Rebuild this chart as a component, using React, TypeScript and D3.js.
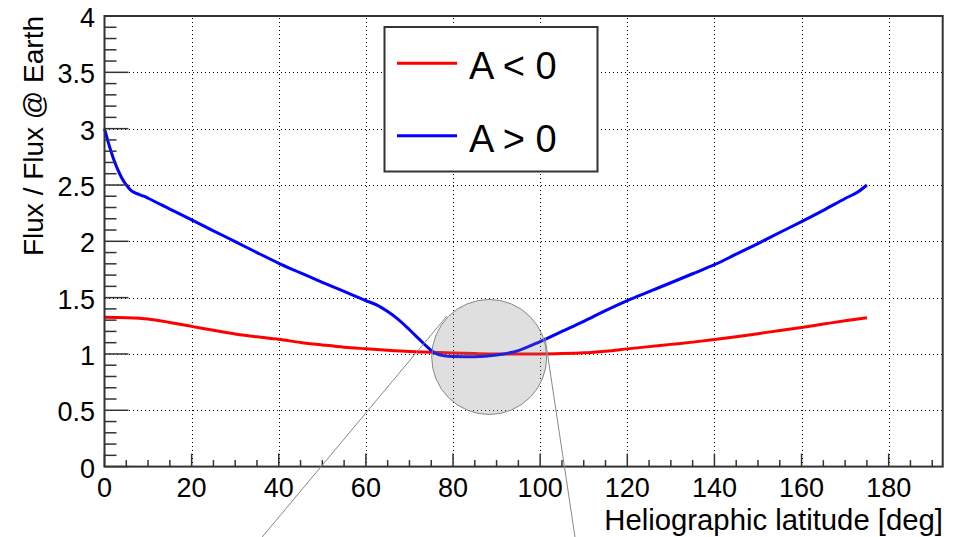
import React from "react";
import * as d3 from "d3";

// ---- data ----
const latNeg: number[] = [0, 5, 10, 15, 20, 25, 30, 35, 40, 45, 50, 55, 60, 65, 70, 75, 80, 85, 90, 95, 100, 105, 110, 115, 120, 125, 130, 135, 140, 145, 150, 155, 160, 165, 170, 175];
const fluxNeg: number[] = [1.326, 1.322, 1.31, 1.28, 1.245, 1.21, 1.178, 1.152, 1.13, 1.102, 1.08, 1.06, 1.046, 1.033, 1.022, 1.015, 1.008, 1.003, 1.0, 1.0, 1.0, 1.003, 1.01, 1.025, 1.045, 1.065, 1.085, 1.105, 1.128, 1.153, 1.18, 1.208, 1.235, 1.265, 1.295, 1.322];

const latPos: number[] = [0, 1, 2, 3, 4, 5, 6, 7, 8, 9, 10, 15, 20, 25, 30, 35, 40, 45, 50, 55, 60, 63, 65, 67, 70, 72, 74, 76, 78, 80, 85, 90, 95, 100, 105, 110, 115, 120, 125, 130, 135, 140, 145, 150, 155, 160, 165, 170, 173, 175];
const fluxPos: number[] = [3.0, 2.86, 2.74, 2.64, 2.56, 2.5, 2.455, 2.43, 2.415, 2.4, 2.382, 2.286, 2.19, 2.093, 1.997, 1.9, 1.805, 1.72, 1.636, 1.555, 1.474, 1.425, 1.376, 1.32, 1.215, 1.14, 1.065, 1.005, 0.983, 0.977, 0.975, 0.99, 1.03, 1.11, 1.2, 1.29, 1.385, 1.474, 1.553, 1.632, 1.712, 1.792, 1.886, 1.98, 2.078, 2.175, 2.275, 2.38, 2.44, 2.5];

const xTicks: number[] = [0, 20, 40, 60, 80, 100, 120, 140, 160, 180];
const yTicks: number[] = [0, 0.5, 1, 1.5, 2, 2.5, 3, 3.5, 4];
const yTickLabels: string[] = ["0", "0.5", "1", "1.5", "2", "2.5", "3", "3.5", "4"];

const legendLabels: string[] = ["A < 0", "A > 0"];
const seriesColors: string[] = ["#ff0000", "#0000ff"];

// magnifier annotation (data coordinates)
const lensCenter: number[] = [88.3, 0.973];
const lensLines: number[][] = [
  [36.2, -0.625, 78.6, 1.337],
  [101.1, 1.15, 108.0, -0.625],
];

const W = 958;
const H = 537;
const xMax = 192.4;

export default function App() {
  const x = d3.scaleLinear().domain([0, xMax]).range([104.5, 942.7]);
  const y = d3.scaleLinear().domain([0, 4]).range([466.6, 16]);
  const x0 = x(0), x1 = x(xMax), y0 = y(0), y1 = y(4);
  const px = (v: number) => Math.round(v) + 0.5;

  const line = d3.line<[number, number]>().x((d) => x(d[0])).y((d) => y(d[1])).curve(d3.curveMonotoneX);
  const negPath = line(latNeg.map((v, i) => [v, fluxNeg[i]] as [number, number])) || "";
  const posPath = line(latPos.map((v, i) => [v, fluxPos[i]] as [number, number])) || "";

  const xMinor = d3.range(0, xMax + 0.001, 5).filter((v) => v % 20 !== 0);
  const yMinor = d3.range(0, 4.0001, 0.1).map((v) => Math.round(v * 10) / 10).filter((v) => Math.abs(v * 2 - Math.round(v * 2)) > 1e-6);

  const font = "'Liberation Sans', Arial, Helvetica, sans-serif";
  const axisColor = "#333";

  return (
    <svg width={W} height={H} style={{ position: "absolute", left: 0, top: 0, background: "#fff" }} fontFamily={font}>
      <rect x={0} y={0} width={W} height={H} fill="#fff" />
      {/* grid */}
      <g stroke="#000" strokeWidth={1} strokeDasharray="1 3" shapeRendering="crispEdges">
        {xTicks.filter((v) => v > 0).map((v) => (
          <line key={"gx" + v} x1={px(x(v))} x2={px(x(v))} y1={y0} y2={y1} />
        ))}
        {yTicks.filter((v) => v > 0 && v < 4).map((v) => (
          <line key={"gy" + v} x1={x0} x2={x1} y1={px(y(v))} y2={px(y(v))} />
        ))}
      </g>

      {/* curves */}
      <path d={negPath} fill="none" stroke={seriesColors[0]} strokeWidth={3} />
      <path d={posPath} fill="none" stroke={seriesColors[1]} strokeWidth={3} />

      {/* ticks */}
      <g stroke={axisColor} strokeWidth={1.5}>
        {xTicks.map((v) => (
          <line key={"tx" + v} x1={x(v)} x2={x(v)} y1={y0} y2={y0 - 13} />
        ))}
        {xMinor.map((v) => (
          <line key={"tmx" + v} x1={x(v)} x2={x(v)} y1={y0} y2={y0 - 6.5} />
        ))}
        {yTicks.map((v) => (
          <line key={"ty" + v} x1={x0} x2={x0 + 24} y1={y(v)} y2={y(v)} />
        ))}
        {yMinor.map((v) => (
          <line key={"tmy" + v} x1={x0} x2={x0 + 12} y1={y(v)} y2={y(v)} />
        ))}
      </g>

      {/* frame */}
      <rect x={x0} y={y1} width={x1 - x0} height={y0 - y1} fill="none" stroke={axisColor} strokeWidth={2} />

      {/* tick labels */}
      <g fontSize={27} fill="#000">
        {xTicks.map((v) => (
          <text key={"lx" + v} x={x(v)} y={497} textAnchor="middle">{String(v)}</text>
        ))}
        {yTicks.map((v, i) => (
          <text key={"ly" + v} x={95} y={y(v) + 11} textAnchor="end">{yTickLabels[i]}</text>
        ))}
      </g>

      {/* axis titles */}
      <text x={943} y={530} fontSize={29.3} textAnchor="end" fill="#000">Heliographic latitude [deg]</text>
      <text transform={`translate(42.5,${y1}) rotate(-90)`} fontSize={28} textAnchor="end" fill="#000">Flux / Flux @ Earth</text>

      {/* legend */}
      <rect x={384.5} y={27} width={213} height={144.5} fill="#fff" stroke={axisColor} strokeWidth={2} />
      {legendLabels.map((lab, i) => (
        <g key={lab}>
          <line x1={397} x2={457} y1={63.3 + i * 72.4} y2={63.3 + i * 72.4} stroke={seriesColors[i]} strokeWidth={3} />
          <text x={469} y={79.3 + i * 72.4} fontSize={38} fill="#000">{lab}</text>
        </g>
      ))}

      {/* magnifier */}
      <circle cx={x(lensCenter[0])} cy={y(lensCenter[1])} r={57.5} fill="#808080" fillOpacity={0.25} stroke="#888" strokeWidth={1} />
      {lensLines.map((l, i) => (
        <line key={"ll" + i} x1={x(l[0])} y1={y(l[1])} x2={x(l[2])} y2={y(l[3])} stroke="#888" strokeWidth={1} />
      ))}
    </svg>
  );
}
